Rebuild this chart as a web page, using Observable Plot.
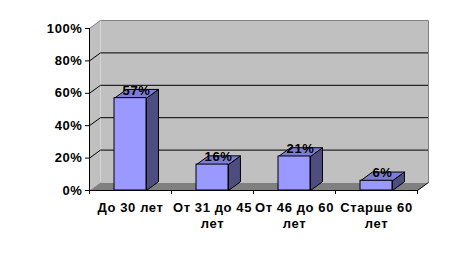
<!DOCTYPE html>
<html><head><meta charset="utf-8">
<script src="https://cdn.jsdelivr.net/npm/d3@7"></script>
<script src="https://cdn.jsdelivr.net/npm/@observablehq/plot@0.6"></script>
<style>body{margin:0;background:#fff} svg text{letter-spacing:0.6px}</style>
</head><body><div id="chart"></div>
<script>
const categories = ["До 30 лет", "От 31 до 45\nлет", "От 46 до 60\nлет", "Старше 60\nлет"];
const values = [57, 16, 21, 6];
const valueLabels = ["57%", "16%", "21%", "6%"];
const yTicks = [0, 20, 40, 60, 80, 100];
const gridValues = [20, 40, 60, 80];

// depth of the 3D box (in data units) and bar geometry
const wx = 0.134, wy = 4.94;   // wall depth
const bx = 0.146, by = 5.4;    // bar depth
const hw = 0.195;              // bar half width (category units)
const N = categories.length;

const bars = values.map((v, i) => ({i, v, x0: i + 0.5 - hw, x1: i + 0.5 + hw}));
const sides = bars.flatMap(b => [
  {id: b.i, x: b.x1, y: 0}, {id: b.i, x: b.x1 + bx, y: by},
  {id: b.i, x: b.x1 + bx, y: b.v + by}, {id: b.i, x: b.x1, y: b.v}, {id: b.i, x: b.x1, y: 0}]);
const tops = bars.flatMap(b => [
  {id: b.i, x: b.x0, y: b.v}, {id: b.i, x: b.x1, y: b.v},
  {id: b.i, x: b.x1 + bx, y: b.v + by}, {id: b.i, x: b.x0 + bx, y: b.v + by}, {id: b.i, x: b.x0, y: b.v}]);
const leftWall = [{x: 0, y: 0}, {x: wx, y: wy}, {x: wx, y: 100 + wy}, {x: 0, y: 100}];
const floor = [{x: 0, y: 0}, {x: N, y: 0}, {x: N + wx, y: wy}, {x: wx, y: wy}];
const grid = gridValues.flatMap(g => [{g, x: 0, y: g}, {g, x: wx, y: g + wy}, {g, x: N + wx, y: g + wy}]);
const topEdge = [{x: 0, y: 100}, {x: wx, y: 100 + wy}, {x: N + wx, y: 100 + wy}, {x: N + wx, y: wy}];

const chart = Plot.plot({
  width: 475, height: 253,
  marginLeft: 89, marginRight: 58, marginTop: 28, marginBottom: 63,
  style: {background: "#fff", fontFamily: "'Liberation Sans', Arial, sans-serif", fontSize: "13px", fontWeight: "bold", color: "#000"},
  x: {domain: [0, N], axis: null},
  y: {domain: [0, 100], axis: null},
  marks: [
    // back wall
    Plot.rect([0], {x1: wx, x2: N + wx, y1: wy, y2: 100 + wy, fill: "#C0C0C0"}),
    // left wall
    Plot.line(leftWall, {x: "x", y: "y", fill: "#C0C0C0", stroke: "none"}),
    Plot.line([{x: wx, y: wy}, {x: wx, y: 100 + wy}], {x: "x", y: "y", stroke: "#d4d4d4", strokeWidth: 1}),
    // floor
    Plot.line(floor, {x: "x", y: "y", fill: "#808080", stroke: "none"}),
    Plot.line([{x: N, y: 0}, {x: N + wx, y: wy}], {x: "x", y: "y", stroke: "#000", strokeWidth: 1}),
    // gridlines
    Plot.line(grid, {x: "x", y: "y", z: "g", stroke: "#000", strokeWidth: 1, strokeLinejoin: "miter"}),
    Plot.line(topEdge, {x: "x", y: "y", stroke: "#808080", strokeWidth: 1, strokeLinejoin: "miter"}),
    // axes
    Plot.ruleX([0], {stroke: "#000"}),
    Plot.ruleY([0], {stroke: "#000"}),
    Plot.axisY({ticks: yTicks, tickSize: 4, tickPadding: 3, tickFormat: d => d + "%", fontSize: 13, fontWeight: "bold"}),
    Plot.axisX({ticks: d3.range(N + 1), tickSize: 4, tickFormat: () => ""}),
    // bars
    Plot.line(sides, {x: "x", y: "y", z: "id", fill: "#4D4D80", stroke: "#000", strokeWidth: 1, strokeLinejoin: "miter"}),
    Plot.line(tops, {x: "x", y: "y", z: "id", fill: "#7C7CD6", stroke: "#000", strokeWidth: 1, strokeLinejoin: "miter"}),
    Plot.rect(bars, {x1: "x0", x2: "x1", y1: 0, y2: "v", fill: "#9999FF", stroke: "#000", strokeWidth: 1}),
    // value labels
    Plot.text(bars, {x: b => b.i + 0.5 + bx / 2, y: b => b.v + by / 2, text: (b) => valueLabels[b.i], lineAnchor: "bottom", dy: 1, fontSize: 13, fontWeight: "bold", fill: "#000"}),
    // category labels
    Plot.text(categories, {x: (d, i) => i + 0.5, y: 0, text: d => d, lineAnchor: "top", dy: 9, lineHeight: 1.3, fontSize: 13, fontWeight: "bold", fill: "#000"})
  ]
});
document.getElementById("chart").appendChild(chart);
</script>
</body></html>
